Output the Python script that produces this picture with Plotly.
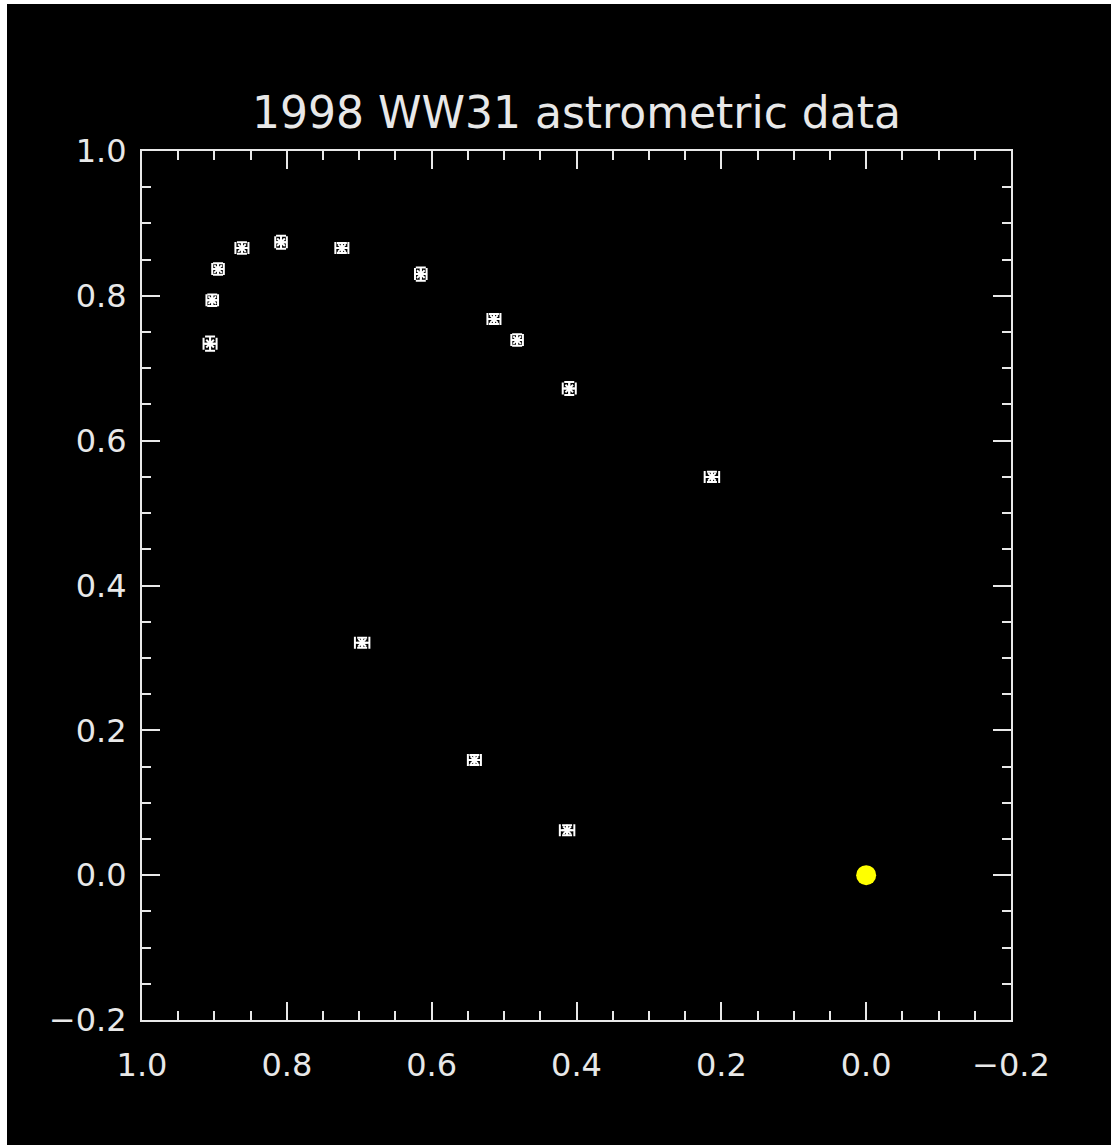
import plotly.graph_objects as go

# Data
ast_x = [0.906, 0.903, 0.895, 0.862, 0.808, 0.724, 0.615, 0.514, 0.482, 0.410, 0.213, 0.696, 0.541, 0.413]
ast_y = [0.734, 0.794, 0.837, 0.866, 0.874, 0.866, 0.830, 0.768, 0.739, 0.672, 0.550, 0.321, 0.159, 0.062]
err_x = [0.009, 0.008, 0.008, 0.009, 0.008, 0.009, 0.008, 0.009, 0.008, 0.009, 0.010, 0.010, 0.009, 0.010]
err_y = [0.010, 0.008, 0.008, 0.008, 0.009, 0.007, 0.009, 0.007, 0.008, 0.009, 0.007, 0.007, 0.007, 0.007]
sun_x = [0.0]
sun_y = [0.0]
title_text = "1998 WW31 astrometric data"

FG = "#e8e8e8"
FONT = "DejaVu Sans"

OFF_L, OFF_T = 7, 4
W, H = 1111 - OFF_L, 1145 - OFF_T
ML, MT = 142 - OFF_L, 151 - OFF_T
MR, MB = 100, 125

fig = go.Figure()
fig.add_trace(go.Scatter(
    x=ast_x, y=ast_y, mode="markers",
    marker=dict(symbol="asterisk-open", size=9, color="white", line=dict(color="white", width=2)),
    error_x=dict(type="data", array=err_x, color="white", thickness=2, width=6),
    error_y=dict(type="data", array=err_y, color="white", thickness=2, width=5),
    showlegend=False, hoverinfo="x+y",
))
fig.add_trace(go.Scatter(
    x=sun_x, y=sun_y, mode="markers",
    marker=dict(symbol="circle", size=20, color="#ffff00"),
    showlegend=False,
))

axis_common = dict(
    showgrid=False, zeroline=False, showline=True, linecolor=FG, linewidth=2,
    mirror="allticks", ticks="inside", ticklen=18, tickwidth=2, tickcolor=FG,
    tickfont=dict(family=FONT, size=32, color=FG),
    minor=dict(ticks="inside", ticklen=9, tickwidth=2, tickcolor=FG, dtick=0.05),
    dtick=0.2, tickformat=".1f",
)

fig.update_layout(
    width=W, height=H,
    margin=dict(l=ML, r=MR, t=MT, b=MB),
    paper_bgcolor="black", plot_bgcolor="black",
    title=dict(text=title_text, x=(ML + (W - ML - MR) / 2) / W, xanchor="center",
               y=1 - (113 - OFF_T) / H, yanchor="middle",
               font=dict(family=FONT, size=44, color=FG)),
    xaxis=dict(range=[1.0, -0.2], tick0=1.0, ticklabelstandoff=16, **axis_common),
    yaxis=dict(range=[-0.2, 1.0], tick0=-0.2, ticklabelstandoff=7, **axis_common),
)

fig.write_html("out.html",
               post_script="document.body.style.margin='%dpx 0 0 %dpx';document.body.style.background='white';" % (OFF_T, OFF_L))
